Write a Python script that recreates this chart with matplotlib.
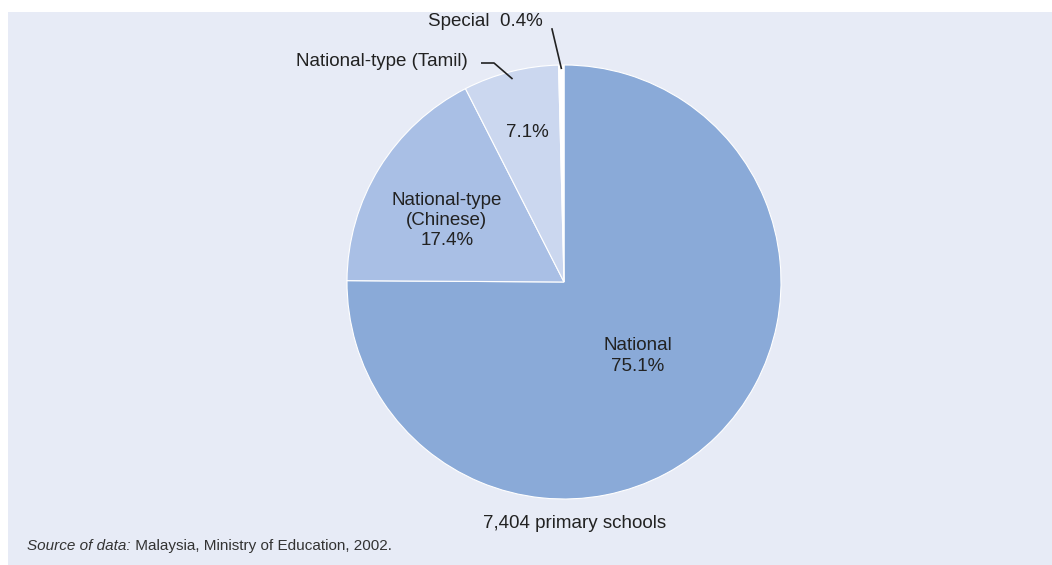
import numpy as np
import matplotlib.pyplot as plt
from matplotlib.patches import Rectangle

# Primary schools by type
tipos = ["National", "National-type (Chinese)", "National-type (Tamil)", "Special"]
porcentajes = [75.1, 17.4, 7.1, 0.4]
colores = ["#8aaad8", "#a9bfe5", "#cbd7ef", "#ffffff"]
total_escuelas = "7,404 primary schools"
fuente = "Malaysia, Ministry of Education, 2002."

plt.rcParams['font.family'] = ['Liberation Sans', 'DejaVu Sans']

W, H = 1052, 565
R = 217.0          # radio del pastel en pixeles
cx, cy = 564, 282  # centro en pixeles

fig = plt.figure(figsize=(W / 100, H / 100), dpi=100)
fig.patch.set_facecolor("white")
ax = fig.add_axes([0, 0, 1, 1])

def px(x, y):
    # pixel -> coordenadas del eje
    return (x - cx) / R, (cy - y) / R

wedges, _ = ax.pie(porcentajes, colors=colores, startangle=90, counterclock=False,
                   radius=1.0, wedgeprops=dict(edgecolor="white", linewidth=0.8))
for w in wedges:
    w.set_zorder(2)

ax.set_xlim(-cx / R, (W - cx) / R)
ax.set_ylim(-(H - cy) / R, cy / R)
ax.set_aspect("auto")
ax.axis("off")

# Fondo del panel
x0, y0 = px(8, 565)
x1, y1 = px(1052, 12)
ax.add_patch(Rectangle((x0, y0), x1 - x0, y1 - y0, facecolor="#e7ebf6",
                       edgecolor="none", zorder=0))

def medio(w, desvio=0.0):
    return np.deg2rad((w.theta1 + w.theta2) / 2 + desvio)

fs = 13.5
tc = "#222222"

# Etiquetas dentro del pastel: (cuna, radio, desvio angular, texto)
internas = [
    (0, 0.48, 0.0, f"National\n{porcentajes[0]}%"),
    (1, 0.61, 4.0, f"National-type\n(Chinese)\n{porcentajes[1]}%"),
    (2, 0.71, -0.5, f"{porcentajes[2]}%"),
]
for i, r, d, txt in internas:
    a = medio(wedges[i], d)
    ax.text(r * np.cos(a), r * np.sin(a), txt, ha="center", va="center",
            fontsize=fs, color=tc, linespacing=1.25, zorder=3)

# Etiquetas fuera con lineas guia
a = medio(wedges[2])
p0 = (0.965 * np.cos(a), 0.965 * np.sin(a))
codo = px(494, 63)
p1 = px(481, 63)
ax.plot([p0[0], codo[0], p1[0]], [p0[1], codo[1], p1[1]], color=tc, lw=1.2,
        zorder=3, solid_capstyle="butt")
ax.text(*px(468, 62), tipos[2], ha="right", va="center", fontsize=fs,
        color=tc, zorder=3)

a = medio(wedges[3])
p0 = (0.985 * np.cos(a), 0.985 * np.sin(a))
p1 = px(552, 29)
ax.plot([p0[0], p1[0]], [p0[1], p1[1]], color=tc, lw=1.2, zorder=3)
ax.text(*px(543, 22), f"{tipos[3]}  {porcentajes[3]}%", ha="right", va="center",
        fontsize=fs, color=tc, zorder=3)

ax.text(*px(575, 524), total_escuelas, ha="center", va="center",
        fontsize=fs, color=tc, zorder=3)
t = ax.text(*px(27, 546), "Source of data:", ha="left", va="center",
            fontsize=11, style="italic", color="#333333", zorder=3)
ax.annotate(" " + fuente, xycoords=t, xy=(1, 0.5), va="center", ha="left",
            fontsize=11, color="#333333", zorder=3)

fig.savefig("out.png", dpi=100, facecolor="white")
